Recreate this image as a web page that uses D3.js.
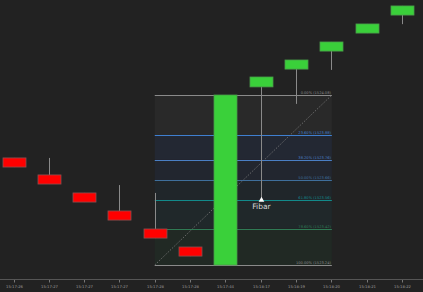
<!DOCTYPE html>
<html>
<head>
<meta charset="utf-8">
<script src="https://cdn.jsdelivr.net/npm/d3@7"></script>
<style>
  html, body { margin: 0; padding: 0; background: #222222; }
  svg { display: block; }
</style>
</head>
<body>
<div id="chart"></div>
<script>
var times = ['15:17:26', '15:17:27', '15:17:27', '15:17:27', '15:17:28', '15:17:28',
             '15:17:44', '15:18:17', '15:18:19', '15:18:20', '15:18:21', '15:18:22'];
var opens  = [1523.769, 1523.685, 1523.596, 1523.507, 1523.418, 1523.329,
              1523.240, 1524.120, 1524.208, 1524.297, 1524.386, 1524.475];
var closes = [1523.724, 1523.640, 1523.551, 1523.462, 1523.373, 1523.284,
              1524.080, 1524.169, 1524.253, 1524.342, 1524.431, 1524.520];
var highs  = [1523.769, 1523.769, 1523.596, 1523.635, 1523.596, 1523.329,
              1524.080, 1524.169, 1524.253, 1524.342, 1524.431, 1524.520];
var lows   = [1523.724, 1523.640, 1523.551, 1523.462, 1523.373, 1523.284,
              1523.240, 1523.571, 1524.036, 1524.204, 1524.386, 1524.430];

var fibLevels = [0, 0.236, 0.382, 0.5, 0.618, 0.786, 1];
var fibLabels = ['0.00% (1524.08)', '23.60% (1523.88)', '38.20% (1523.76)', '50.00% (1523.66)',
                 '61.80% (1523.56)', '78.60% (1523.42)', '100.00% (1523.24)'];
var fibLineColors = ['#8a8a8a', '#3f7fd0', '#4a7fc4', '#3f6f9c', '#128a8a', '#2f7a55', '#8a8a8a'];
var fibFillColors = ['#292929', '#232833', '#22262f', '#20262a', '#20282a', '#212924'];
var fibHigh = 1524.08, fibLow = 1523.24;
var fibStart = 4, fibEnd = 9;  // index range (by x position) the tool spans
var markerIndex = 7, markerPrice = 1523.571, markerText = 'Fibar';

var width = 423, height = 292;
var svg = d3.select('#chart').append('svg')
    .attr('width', width)
    .attr('height', height);

svg.append('rect').attr('width', width).attr('height', height).attr('fill', '#222222');

var x = d3.scaleLinear().domain([0, times.length - 1]).range([13.5, 402]);
var y = d3.scaleLinear().domain([fibLow, fibHigh]).range([265, 95]);
var bodyW = 23;

// fib retracement zones
var fx0 = x(fibStart), fx1 = x(fibEnd) + 0.5;
var fibPrice = function(l) { return fibHigh - (fibHigh - fibLow) * l; };
var fib = svg.append('g');
fibLevels.slice(0, -1).forEach(function(l, i) {
    var yTop = y(fibPrice(l)), yBot = y(fibPrice(fibLevels[i + 1]));
    fib.append('rect')
        .attr('x', fx0).attr('y', yTop)
        .attr('width', fx1 - fx0).attr('height', yBot - yTop)
        .attr('fill', fibFillColors[i]);
});
fib.append('line')
    .attr('x1', fx0).attr('y1', y(fibLow))
    .attr('x2', fx1).attr('y2', y(fibHigh))
    .attr('stroke', '#7a7a7a').attr('stroke-width', 0.8)
    .attr('stroke-dasharray', '1.5,1.5');
fibLevels.forEach(function(l, i) {
    var yy = Math.round(y(fibPrice(l))) + 0.5;
    fib.append('line')
        .attr('x1', fx0).attr('x2', fx1)
        .attr('y1', yy).attr('y2', yy)
        .attr('stroke', fibLineColors[i]).attr('stroke-width', 1);
    fib.append('text')
        .attr('x', fx1 - 1).attr('y', yy - 1.5)
        .attr('text-anchor', 'end')
        .attr('font-family', 'DejaVu Sans, sans-serif')
        .attr('font-size', 3.6)
        .attr('fill', fibLineColors[i])
        .text(fibLabels[i]);
});

// candles
var candles = svg.append('g');
times.forEach(function(t, i) {
    var up = closes[i] >= opens[i];
    var cx = Math.round(x(i)) + 0.5;
    candles.append('line')
        .attr('x1', cx).attr('x2', cx)
        .attr('y1', y(highs[i])).attr('y2', y(lows[i]))
        .attr('stroke', '#8a8a8a').attr('stroke-width', 1);
    var top = y(Math.max(opens[i], closes[i])), bot = y(Math.min(opens[i], closes[i]));
    candles.append('rect')
        .attr('x', cx - bodyW / 2).attr('y', top)
        .attr('width', bodyW).attr('height', Math.max(1, bot - top))
        .attr('fill', up ? '#3ad03a' : '#ff0000')
        .attr('stroke', up ? '#4a9a4a' : '#8a5050').attr('stroke-width', 0.8);
});

// marker
var mx = Math.round(x(markerIndex)) + 0.5, my = y(markerPrice) + 2;
svg.append('path')
    .attr('d', d3.symbol().type(d3.symbolTriangle).size(14)())
    .attr('transform', 'translate(' + mx + ',' + my + ')')
    .attr('fill', '#ffffff');
svg.append('text')
    .attr('x', mx).attr('y', my + 9)
    .attr('text-anchor', 'middle')
    .attr('font-family', 'DejaVu Sans, sans-serif')
    .attr('font-size', 7.5)
    .attr('fill', '#d8d8d8')
    .text(markerText);

// time axis
var axisY = 279.5;
var ax = svg.append('g');
ax.append('line')
    .attr('x1', 0).attr('x2', width)
    .attr('y1', axisY).attr('y2', axisY)
    .attr('stroke', '#555555');
times.forEach(function(t, i) {
    var tx = Math.round(x(i)) + 0.5;
    ax.append('line')
        .attr('x1', tx).attr('x2', tx)
        .attr('y1', axisY + 0.5).attr('y2', axisY + 3)
        .attr('stroke', '#777777');
    ax.append('text')
        .attr('x', tx).attr('y', axisY + 8.5)
        .attr('text-anchor', 'middle')
        .attr('font-family', 'DejaVu Sans, sans-serif')
        .attr('font-size', 3.8)
        .attr('fill', '#9a9a9a')
        .text(t);
});
</script>
</body>
</html>
